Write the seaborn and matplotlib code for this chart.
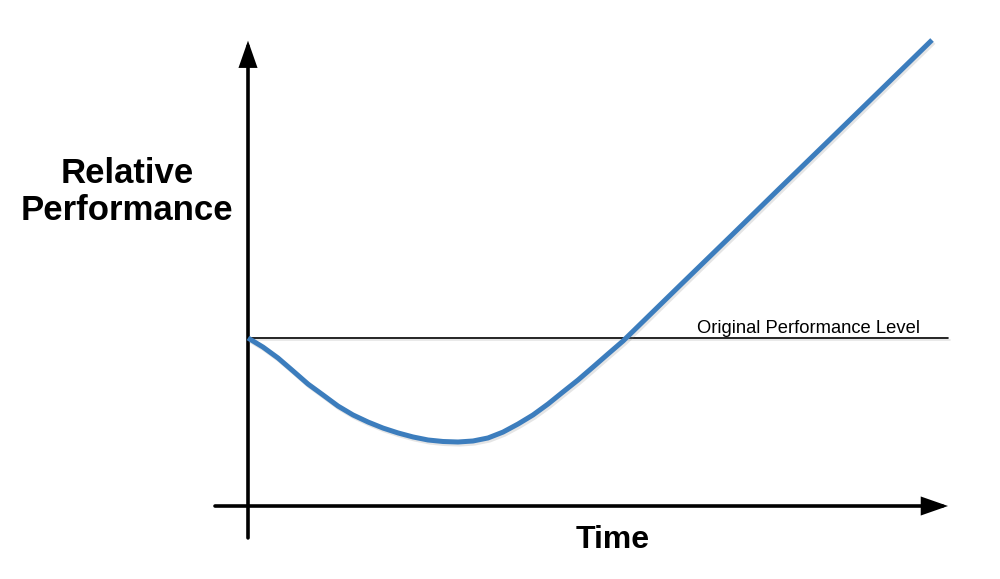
import matplotlib
matplotlib.use('Agg')
import matplotlib.pyplot as plt
import matplotlib.patheffects as pe
import seaborn as sns
import pandas as pd

# time (arbitrary units) and performance relative to the original level (= 1.0)
time = [0.00, 0.15, 0.30, 0.45, 0.60, 0.75, 0.90, 1.05, 1.20, 1.35,
        1.50, 1.65, 1.80, 1.95, 2.10, 2.25, 2.40, 2.55, 2.70, 2.85,
        3.00, 3.15, 3.30, 3.45, 3.60, 3.75, 3.90, 4.32, 4.82, 5.32,
        5.82, 6.32, 6.84]
performance = [1.000, 0.946, 0.881, 0.804, 0.726, 0.661, 0.595, 0.542, 0.500, 0.464,
               0.435, 0.411, 0.393, 0.384, 0.381, 0.387, 0.405, 0.440, 0.488, 0.542,
               0.607, 0.679, 0.750, 0.827, 0.905, 0.982, 1.069, 1.313, 1.602, 1.893,
               2.182, 2.472, 2.774]
original_level = 1.0

LINE_BLUE = "#3c7dbd"


def main():
    sns.set_theme(style="white")
    plt.rcParams['font.family'] = ['Liberation Sans', 'DejaVu Sans']

    df = pd.DataFrame({"Time": time, "Performance": performance})
    shadow = [pe.SimpleLineShadow(offset=(1.2, -1.5), shadow_color="gray", alpha=0.2),
              pe.Normal()]

    fig = plt.figure(figsize=(10, 5.79), dpi=100)
    ax = fig.add_axes([0, 0, 1, 1])
    ax.set_xlim(-2.48, 7.52)
    ax.set_ylim(-0.4345, 3.012)
    ax.axis('off')

    # reference level line
    ax.plot([0, 7.0], [original_level, original_level], color="black", lw=1.2,
            path_effects=shadow)
    ax.text(4.49, 1.03, "Original Performance Level", fontsize=13.2,
            ha="left", va="baseline", color="black")

    # axes with arrow heads
    arrow = dict(arrowstyle="-|>,head_length=1.2,head_width=0.42", lw=2.6,
                 color="black", shrinkA=0, shrinkB=0, joinstyle="miter")
    ax.annotate("", xy=(7.0, 0), xytext=(-0.33, 0), arrowprops=arrow)
    ax.annotate("", xy=(0, 2.77), xytext=(0, -0.19), arrowprops=arrow)

    # performance curve
    sns.lineplot(data=df, x="Time", y="Performance", ax=ax, color=LINE_BLUE,
                 lw=3.6, solid_capstyle="butt", solid_joinstyle="round",
                 sort=False, zorder=3, path_effects=shadow)

    ax.text(-1.21, 1.87, "Relative\nPerformance", fontsize=25, fontweight="bold",
            ha="center", va="center", multialignment="center", linespacing=1.15,
            color="black")
    ax.text(3.65, -0.25, "Time", fontsize=23, fontweight="bold",
            ha="center", va="baseline", color="black")

    fig.savefig("out.png", dpi=100)
    plt.close(fig)


if __name__ == "__main__":
    main()
